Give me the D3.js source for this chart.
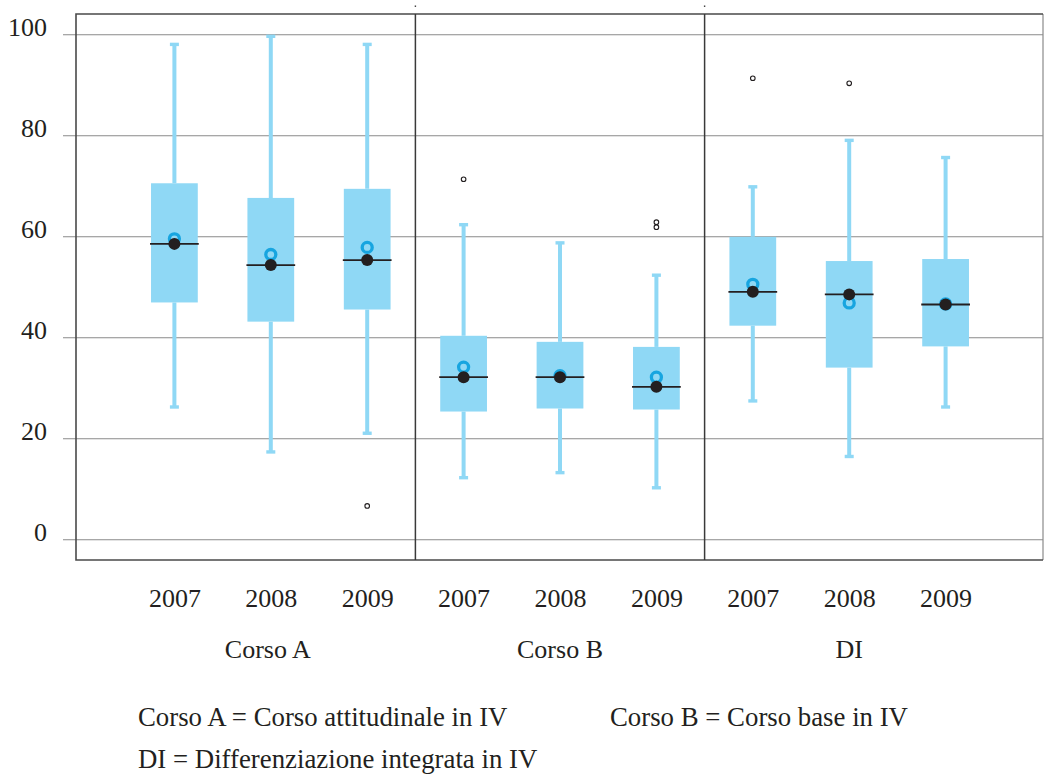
<!DOCTYPE html>
<html>
<head>
<meta charset="utf-8">
<script src="https://cdn.jsdelivr.net/npm/d3@7"></script>
<style>
  html, body { margin: 0; padding: 0; background: #ffffff; }
  svg { display: block; }
  text { font-family: "Liberation Serif", "Times New Roman", serif; fill: #231f20; }
</style>
</head>
<body>
<svg id="chart" width="1044" height="774"></svg>
<script>
// ---- data ----
const groups = ["Corso A", "Corso B", "DI"];
const years = ["2007", "2008", "2009"];
const keys = ["A-2007", "A-2008", "A-2009", "B-2007", "B-2008", "B-2009", "DI-2007", "DI-2008", "DI-2009"];
const yTicks = [0, 20, 40, 60, 80, 100];

const whiskerLow  = [26.2, 17.3, 21.0, 12.2, 13.2, 10.2, 27.4, 16.4, 26.2];
const q1          = [46.9, 43.1, 45.5, 25.3, 25.9, 25.7, 42.3, 34.0, 38.2];
const median      = [58.5, 54.3, 55.3, 32.1, 32.1, 30.2, 49.0, 48.5, 46.5];
const q3          = [70.5, 67.6, 69.4, 40.3, 39.1, 38.1, 59.9, 55.1, 55.5];
const whiskerHigh = [98.0, 99.6, 98.0, 62.3, 58.7, 52.3, 69.8, 79.0, 75.6];
const mean        = [59.5, 56.4, 57.8, 34.1, 32.4, 32.1, 50.5, 46.8, 46.6];
const outlierIdx  = [2, 3, 5, 5, 6, 7];
const outlierVal  = [6.6, 71.3, 62.8, 61.8, 91.3, 90.3];

const legendLines = [
  ["Corso A = Corso attitudinale in IV", "Corso B = Corso base in IV"],
  ["DI = Differenziazione integrata in IV"]
];

// ---- layout ----
const frame = { left: 76, right: 1043, top: 14, bottom: 560 };
const svg = d3.select("#chart");

const x = d3.scalePoint().domain(keys).range([78, 1042]).padding(1);
const y = d3.scaleLinear().domain([0, 100]).range([539.3, 34.3]);
const step = x.step();
const boxW = step * 0.485;

const boxFill = "#8fd8f5";
const meanBlue = "#17a5e0";
const dark = "#231f20";

// gridlines + y labels
const yAxis = d3.axisLeft(y).tickValues(yTicks).tickSize(frame.right - 63).tickPadding(16).tickFormat(d3.format("d"));
const gy = svg.append("g").attr("transform", `translate(${frame.right},0)`).call(yAxis);
gy.select(".domain").remove();
gy.selectAll(".tick line").attr("stroke", "#8a8a8a").attr("stroke-width", 1.1);
gy.selectAll(".tick text").attr("dy", "0.05em").style("font-size", "26px")
  .style("font-family", '"Liberation Serif", "Times New Roman", serif').attr("fill", dark);

// frame
svg.append("line").attr("x1", frame.right).attr("x2", frame.right).attr("y1", frame.top).attr("y2", frame.bottom)
  .attr("stroke", "#8a8a8a").attr("stroke-width", 1.2);
svg.append("path")
  .attr("d", `M${frame.right},${frame.top}H${frame.left}V${frame.bottom}H${frame.right}`)
  .attr("fill", "none").attr("stroke", "#4a4a4a").attr("stroke-width", 1.6);

// panel dividers
for (let g = 1; g < groups.length; g++) {
  const xd = (x(keys[g * 3 - 1]) + x(keys[g * 3])) / 2;
  svg.append("line").attr("x1", xd).attr("x2", xd).attr("y1", frame.top).attr("y2", frame.bottom)
    .attr("stroke", "#3a3a3a").attr("stroke-width", 1.5);
  svg.append("rect").attr("x", xd - 0.7).attr("y", 5.5).attr("width", 1.4).attr("height", 1.4).attr("fill", "#333");
}

// boxes
const items = keys.map((k, i) => ({ k, i }));
const gb = svg.append("g");

// whiskers
gb.selectAll(".wh").data(items).join("line")
  .attr("x1", d => x(d.k)).attr("x2", d => x(d.k))
  .attr("y1", d => y(q3[d.i])).attr("y2", d => y(whiskerHigh[d.i]))
  .attr("stroke", boxFill).attr("stroke-width", 4);
gb.selectAll(".wl").data(items).join("line")
  .attr("x1", d => x(d.k)).attr("x2", d => x(d.k))
  .attr("y1", d => y(q1[d.i])).attr("y2", d => y(whiskerLow[d.i]))
  .attr("stroke", boxFill).attr("stroke-width", 4);
// caps
gb.selectAll(".ch").data(items).join("rect")
  .attr("x", d => x(d.k) - 4.5).attr("y", d => y(whiskerHigh[d.i]) - 1.7)
  .attr("width", 9).attr("height", 3.4).attr("fill", boxFill);
gb.selectAll(".cl").data(items).join("rect")
  .attr("x", d => x(d.k) - 4.5).attr("y", d => y(whiskerLow[d.i]) - 1.7)
  .attr("width", 9).attr("height", 3.4).attr("fill", boxFill);
// box
gb.selectAll(".box").data(items).join("rect")
  .attr("x", d => x(d.k) - boxW / 2).attr("y", d => y(q3[d.i]))
  .attr("width", boxW).attr("height", d => y(q1[d.i]) - y(q3[d.i]))
  .attr("fill", boxFill);
// mean circle (blue)
gb.selectAll(".mean").data(items).join("circle")
  .attr("cx", d => x(d.k)).attr("cy", d => y(mean[d.i])).attr("r", 5)
  .attr("fill", "none").attr("stroke", meanBlue).attr("stroke-width", 3.3);
// median line
gb.selectAll(".med").data(items).join("line")
  .attr("x1", d => x(d.k) - boxW / 2 - 1).attr("x2", d => x(d.k) + boxW / 2 + 1)
  .attr("y1", d => y(median[d.i])).attr("y2", d => y(median[d.i]))
  .attr("stroke", dark).attr("stroke-width", 1.8);
// median dot
gb.selectAll(".mdot").data(items).join("circle")
  .attr("cx", d => x(d.k)).attr("cy", d => y(median[d.i])).attr("r", 6)
  .attr("fill", dark);
// outliers
gb.selectAll(".out").data(outlierIdx.map((idx, j) => ({ idx, v: outlierVal[j] }))).join("circle")
  .attr("cx", d => x(keys[d.idx])).attr("cy", d => y(d.v)).attr("r", 2.3)
  .attr("fill", "#fff").attr("stroke", dark).attr("stroke-width", 1.1);

// x axis year labels
const xAxis = d3.axisBottom(x).tickSize(0).tickFormat((d, i) => years[i % 3]);
const gx = svg.append("g").attr("transform", `translate(0,${frame.bottom})`).call(xAxis);
gx.select(".domain").remove();
gx.selectAll(".tick text").attr("dy", null).attr("y", 47).style("font-size", "26px")
  .style("font-family", '"Liberation Serif", "Times New Roman", serif').attr("fill", dark);

// group labels
svg.selectAll(".grp").data(groups).join("text")
  .attr("x", (d, g) => x(keys[g * 3 + 1]) - (g === 0 ? 3 : 0))
  .attr("y", 658).attr("text-anchor", "middle").style("font-size", "26px").text(d => d);

// legend
svg.append("text").attr("x", 138).attr("y", 726).style("font-size", "26.8px").text(legendLines[0][0]);
svg.append("text").attr("x", 610).attr("y", 726).style("font-size", "26.8px").text(legendLines[0][1]);
svg.append("text").attr("x", 138).attr("y", 768).style("font-size", "26.8px").text(legendLines[1][0]);
</script>
</body>
</html>
